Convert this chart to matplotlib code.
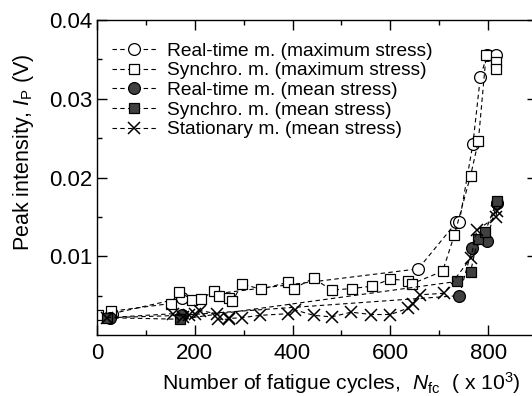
import matplotlib
matplotlib.use("Agg")
import matplotlib.pyplot as plt
from matplotlib.ticker import FixedLocator

plt.rcParams['font.family'] = ['Liberation Sans', 'DejaVu Sans']
plt.rcParams['mathtext.fontset'] = 'custom'
plt.rcParams['mathtext.rm'] = 'Liberation Sans'
plt.rcParams['mathtext.it'] = 'Liberation Sans:italic'

# Real-time m. (maximum stress) - open circles
rt_max_x = [30, 173, 657, 735, 741, 769, 784, 798, 816]
rt_max_y = [0.0027, 0.0047, 0.0084, 0.0143, 0.0143, 0.0243, 0.0327, 0.0356, 0.0356]

# Synchro. m. (maximum stress) - open squares
sy_max_x = [2, 28, 151, 168, 194, 213, 240, 250, 269, 277, 297, 335, 391, 402,
            443, 480, 521, 563, 600, 637, 644, 707, 731, 764, 780, 796, 816, 816]
sy_max_y = [0.0025, 0.0030, 0.0040, 0.0055, 0.0045, 0.0046, 0.0056, 0.0050, 0.0047,
            0.0043, 0.0065, 0.0058, 0.0067, 0.0059, 0.0072, 0.0057, 0.0059, 0.0062,
            0.0071, 0.0069, 0.0065, 0.0081, 0.0127, 0.0202, 0.0246, 0.0356, 0.0347,
            0.0338]

# Real-time m. (mean stress) - filled circles
rt_mean_x = [27, 173, 741, 768, 797, 818]
rt_mean_y = [0.0022, 0.0025, 0.0050, 0.0111, 0.0119, 0.0168]

# Synchro. m. (mean stress) - filled squares
sy_mean_x = [20, 170, 736, 764, 779, 794, 818]
sy_mean_y = [0.0022, 0.0020, 0.0068, 0.0080, 0.0122, 0.0131, 0.0170]

# Stationary m. (mean stress) - crosses
st_mean_x = [20, 155, 176, 189, 200, 211, 245, 248, 269, 271, 296, 334, 390, 404,
             443, 480, 520, 561, 600, 636, 646, 660, 710, 765, 777, 816, 818]
st_mean_y = [0.0022, 0.0027, 0.0023, 0.0025, 0.0027, 0.0031, 0.0027, 0.0020, 0.0020,
             0.0021, 0.0022, 0.0025, 0.0027, 0.0032, 0.0025, 0.0023, 0.0029, 0.0026,
             0.0026, 0.0034, 0.0039, 0.0051, 0.0053, 0.0098, 0.0133, 0.0150, 0.0158]

labels = ['Real-time m. (maximum stress)', 'Synchro. m. (maximum stress)',
          'Real-time m. (mean stress)', 'Synchro. m. (mean stress)',
          'Stationary m. (mean stress)']

W, H = 532, 396
fig = plt.figure(figsize=(W / 100, H / 100), dpi=100)
left, right, top, bottom = 97, 537, 20, 335
ax = fig.add_axes([left / W, (H - bottom) / H, (right - left) / W, (bottom - top) / H])

fill = '#404040'
common = dict(color='black', lw=0.8, dashes=(4, 3), markeredgecolor='black',
              markeredgewidth=0.9)
ax.plot(rt_max_x, rt_max_y, marker='o', ms=8.5, markerfacecolor='white', label=labels[0], **common)
ax.plot(sy_max_x, sy_max_y, marker='s', ms=7.5, markerfacecolor='white', label=labels[1], **common)
ax.plot(rt_mean_x, rt_mean_y, marker='o', ms=8.5, markerfacecolor=fill, label=labels[2], **common)
ax.plot(sy_mean_x, sy_mean_y, marker='s', ms=7.5, markerfacecolor=fill, label=labels[3], **common)
ax.plot(st_mean_x, st_mean_y, marker='x', ms=9, markerfacecolor='none', label=labels[4],
        color='black', lw=0.8, dashes=(4, 3), markeredgewidth=1.1)

ax.set_xlim(0, 900)
ax.set_ylim(0, 0.04)
ax.xaxis.set_major_locator(FixedLocator([0, 200, 400, 600, 800]))
ax.xaxis.set_minor_locator(FixedLocator([100, 300, 500, 700]))
ax.yaxis.set_major_locator(FixedLocator([0.01, 0.02, 0.03, 0.04]))
ax.yaxis.set_minor_locator(FixedLocator([0.005, 0.015, 0.025, 0.035]))
ax.set_yticklabels(['0.01', '0.02', '0.03', '0.04'])
ax.tick_params(which='both', direction='in', top=True, right=True, labelsize=16, width=1)
ax.tick_params(which='major', length=7)
ax.tick_params(which='minor', length=3.6)
ax.tick_params(axis='x', pad=6)
for s in ax.spines.values():
    s.set_linewidth(1.0)

ax.set_xlabel(r'Number of fatigue cycles,  $N_{\mathrm{fc}}$  ( x 10$^{3}$)', fontsize=15.2)
ax.set_ylabel(r'Peak intensity, $I_{\mathrm{P}}$ (V)', fontsize=15.5)
ax.xaxis.set_label_coords(0.562 * 434 / 440, -0.112)
ax.yaxis.set_label_coords(-0.140 * 434 / 440, 0.58)

leg = ax.legend(loc='upper left', bbox_to_anchor=(0.012, 0.96), frameon=False, fontsize=13.8,
                handlelength=2.3, handletextpad=0.6, labelspacing=0.12, borderaxespad=0.3,
                borderpad=0.2)

fig.savefig('out.png', dpi=100)
